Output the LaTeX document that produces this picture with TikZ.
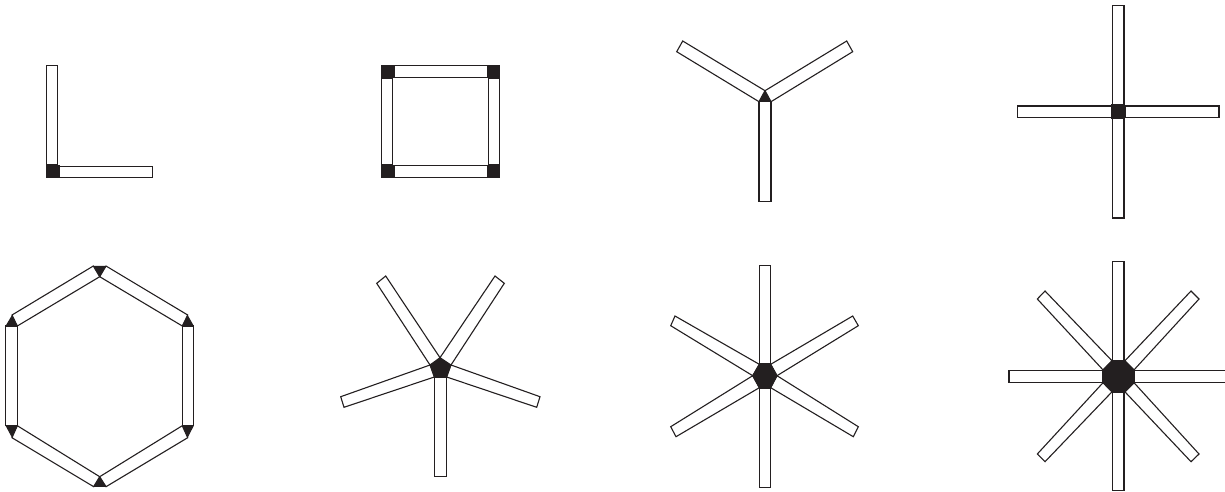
\documentclass[tikz,border=0pt]{standalone}
\definecolor{ink}{HTML}{231F20}
\tikzset{
  barshape/.style={draw=ink,fill=white,line width=1.1pt,line join=miter},
  hubshape/.style={draw=ink,fill=ink,line width=0.9pt,line join=miter}
}
\begin{document}
\begin{tikzpicture}[x=1pt,y=-1pt]
\useasboundingbox (0,0) rectangle (1225,491);
\clip (0,0) rectangle (1225,491);
% Figure 1: L
\draw[barshape] (46.9,65.8) rectangle (57.7,165);
\draw[barshape] (59,166.2) rectangle (152.4,177.7);
\draw[hubshape] (46.9,165.2) rectangle (59,177.8);
% Figure 2: square
\draw[barshape] (394,65.8) rectangle (487.5,77.3);
\draw[barshape] (394,165.8) rectangle (487.5,177.3);
\draw[barshape] (381.9,78) rectangle (392.9,165);
\draw[barshape] (488.8,78) rectangle (499.6,165);
\draw[hubshape] (381.4,65.4) rectangle (394,77.8);
\draw[hubshape] (487.5,65.4) rectangle (499.9,77.8);
\draw[hubshape] (381.4,165.2) rectangle (394,177.6);
\draw[hubshape] (487.5,165.2) rectangle (499.9,177.6);
% Figure 3: three arms
\draw[barshape] (759,101.8) rectangle (771,201.7);
\draw[barshape] (682.7,41) -- (765,90.7) -- (759,101.7) -- (676.7,51.7) -- cycle;
\draw[barshape] (846.7,41) -- (765,90.7) -- (771,101.7) -- (852.7,51.7) -- cycle;
\draw[hubshape] (765,91.5) -- (770.6,101.5) -- (759.4,101.5) -- cycle;
% Figure 4: cross
\draw[barshape] (1112.8,5.7) rectangle (1124,104.5);
\draw[barshape] (1112.8,118.5) rectangle (1124,218);
\draw[barshape] (1017.7,106) rectangle (1111.5,117.7);
\draw[barshape] (1125,106) rectangle (1219,117.7);
\draw[hubshape] (1111.6,104.6) rectangle (1124.8,118.6);
% Figure 5: hexagon ring
\draw[barshape] (5.9,326) rectangle (17.3,425.7);
\draw[barshape] (182.3,326) rectangle (193.5,425.7);
\draw[barshape] (93.3,266) -- (12,315) -- (17.3,326) -- (99.7,276.7) -- cycle;
\draw[barshape] (106,266) -- (187.7,315) -- (182.3,326) -- (99.7,276.7) -- cycle;
\draw[barshape] (12,437.7) -- (93.7,486.7) -- (99.7,476.7) -- (17.3,425.7) -- cycle;
\draw[barshape] (187.7,437.7) -- (106,486.7) -- (99.7,476.7) -- (182.3,425.7) -- cycle;
\draw[hubshape] (94,266.3) -- (105.6,266.3) -- (99.7,276) -- cycle;
\draw[hubshape] (94,486.4) -- (105.6,486.4) -- (99.7,477.4) -- cycle;
\draw[hubshape] (12,316) -- (16.9,325.6) -- (6.3,325.6) -- cycle;
\draw[hubshape] (187.7,316) -- (193.1,325.6) -- (182.7,325.6) -- cycle;
\draw[hubshape] (6.3,426.1) -- (16.9,426.1) -- (12,436.7) -- cycle;
\draw[hubshape] (182.7,426.1) -- (193.1,426.1) -- (187.7,436.7) -- cycle;
% Figure 6: five arms
\draw[barshape] (434.5,377) rectangle (446.5,476.7);
\draw[barshape] (495,276) -- (504.3,283.3) -- (451,365) -- (440,357.7) -- cycle;
\draw[barshape] (385.7,276) -- (376.7,283.3) -- (430,365) -- (440,357.7) -- cycle;
\draw[barshape] (540,396.7) -- (536.7,407.3) -- (446.7,377) -- (451,365) -- cycle;
\draw[barshape] (340.7,396.7) -- (344,407.3) -- (434.3,377) -- (430,365) -- cycle;
\draw[hubshape] (440,358.2) -- (450.5,365.2) -- (446.4,377) -- (434.6,377) -- (430.5,365.2) -- cycle;
% Figure 7: six arms
\draw[barshape] (759.2,265.7) rectangle (770.8,364);
\draw[barshape] (759.2,388) rectangle (770.8,487.3);
\draw[barshape] (675,316) -- (670.7,325.7) -- (752.7,375.7) -- (759.3,364.3) -- cycle;
\draw[barshape] (852.7,316) -- (858.3,325.7) -- (777,375.7) -- (770.7,364.3) -- cycle;
\draw[barshape] (670.7,426.7) -- (676,436.7) -- (759.3,387.7) -- (752.7,375.7) -- cycle;
\draw[barshape] (858.3,426.7) -- (853.3,436.7) -- (770.7,387.7) -- (777,375.7) -- cycle;
\draw[hubshape] (759.3,364.3) -- (770.7,364.3) -- (777,375.7) -- (770.7,387.7) -- (759.3,387.7) -- (752.7,375.7) -- cycle;
% Figure 8: eight arms
\draw[barshape] (1112.4,261.7) rectangle (1124,361);
\draw[barshape] (1112.4,392) rectangle (1124,490.4);
\draw[barshape] (1009,370.3) rectangle (1103,382.3);
\draw[barshape] (1134,370.3) rectangle (1228,382.3);
\draw[barshape] (1045,291) -- (1037.3,299) -- (1103,369.9) -- (1112,360.8) -- cycle;
\draw[barshape] (1191,291) -- (1199,299) -- (1134,369.9) -- (1124.9,360.8) -- cycle;
\draw[barshape] (1037.3,454) -- (1045,461.7) -- (1112,391.8) -- (1103,382.7) -- cycle;
\draw[barshape] (1199,454) -- (1191,461.7) -- (1124.9,391.8) -- (1134,382.7) -- cycle;
\draw[hubshape] (1112,360.8) -- (1124.9,360.8) -- (1134,369.9) -- (1134,382.7) -- (1124.9,391.8) -- (1112,391.8) -- (1103,382.7) -- (1103,369.9) -- cycle;
\end{tikzpicture}
\end{document}
